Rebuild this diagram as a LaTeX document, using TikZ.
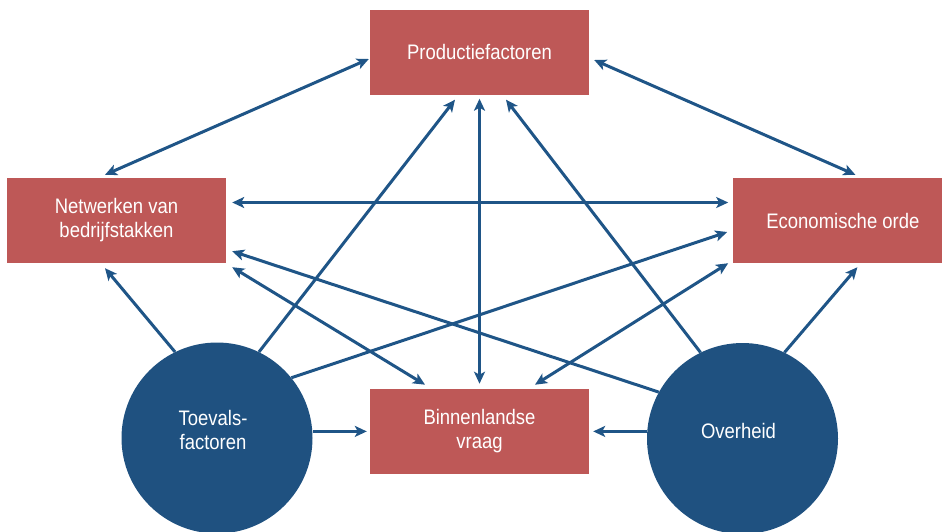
\documentclass[tikz,border=0pt]{standalone}
\usepackage{fontspec}
\setmainfont[FakeStretch=0.88]{Liberation Sans}
\usetikzlibrary{positioning,calc,arrows.meta}
\definecolor{boxred}{HTML}{BE5857}
\definecolor{circblue}{HTML}{1F5180}
\definecolor{arrblue}{HTML}{1F5587}

\begin{document}
\begin{tikzpicture}[x=1pt, y=-1pt,
    node distance=294pt and 507pt,
    txt/.style={text=white, align=center, font=\fontsize{21pt}{24pt}\selectfont},
    box/.style={txt, fill=boxred, minimum width=219pt, minimum height=85pt, inner sep=0pt},
    blob/.style={circle, fill=circblue, minimum size=191pt, inner sep=0pt},
    >={Stealth[length=12pt, width=11pt, inset=3pt]},
    arr/.style={->, line width=3pt, arrblue},
    dblarr/.style={arr, <->}]
    \useasboundingbox (0,0) rectangle (942,531);
    \node[box] (prod) at (479.5,52) {Productiefactoren};
    \node[box, below=of prod] (binn) {Binnenlandse\\vraag};
    \node[box] (netw) at (116.5,220.5) {Netwerken van\\bedrijfstakken};
    \node[box, right=of netw] (econ) {Economische orde};
    \node[blob, label={[txt, xshift=-4pt, yshift=8pt]center:Toevals-\\factoren}] (toev) at (217,438) {};
    \node[blob, label={[txt, xshift=-4pt, yshift=8pt]center:Overheid}] (overh) at (742.5,438.5) {};
    % wederzijdse relaties
    \draw[dblarr] ($(prod.west)+(-1,7)$) -- ($(netw.north)+(-11.5,-3)$);
    \draw[dblarr] ($(prod.east)+(5,8)$) -- ($(econ.north)+(12.5,-3)$);
    \draw[dblarr] ($(netw.east)+(6,-18)$) -- ($(econ.west)+(-5,-18)$);
    \draw[dblarr] ($(prod.south)+(0,4)$) -- ($(binn.north)+(0,-5)$);
    \draw[dblarr] ($(netw.south east)+(6,4)$) -- ($(binn.north)+(-54.5,-4)$);
    \draw[dblarr] ($(econ.south west)+(-5,0)$) -- ($(binn.north)+(55.5,-4)$);
    % invloed van buitenaf
    \draw[arr] (toev.116) -- ($(netw.south)+(-11.5,5)$);
    \draw[arr] (toev.64) -- ($(prod.south)+(-24.5,5)$);
    \draw[arr] (toev.39) -- ($(econ.west)+(-6,11.5)$);
    \draw[arr] (binn.west -| toev.east) -- ($(binn.west)+(-3,0)$);
    \draw[arr] (binn.east -| overh.west) -- ($(binn.east)+(4,0)$);
    \draw[arr] (overh.116) -- ($(prod.south)+(26.5,5)$);
    \draw[arr] (overh.64) -- ($(econ.south)+(14.5,4)$);
    \draw[arr] (overh.151) -- ($(netw.south east)+(6,-12)$);
\end{tikzpicture}
\end{document}
